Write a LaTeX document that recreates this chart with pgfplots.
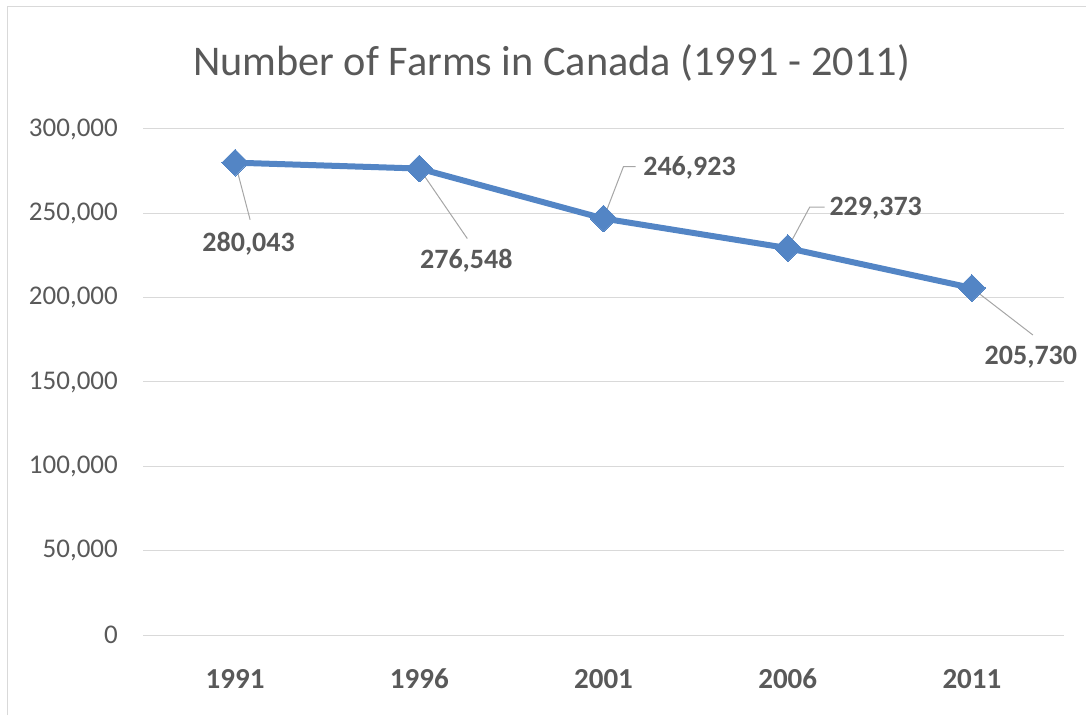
\documentclass[border=0pt]{standalone}
\usepackage{pgfplots}
\pgfplotsset{compat=1.18}
\usetikzlibrary{calc}
\usepackage{fontspec}
\setmainfont{Carlito}
\definecolor{linec}{RGB}{83,133,197}
\definecolor{txt}{RGB}{89,89,89}
\definecolor{gridc}{RGB}{217,217,217}
\definecolor{leader}{RGB}{166,166,166}
\begin{document}
\begin{tikzpicture}[x=1pt,y=1pt]
\useasboundingbox (0,0) rectangle (1086,715);
\draw[gridc,line width=1pt] (7,0) -- (7,708) -- (1086,708);
\node[text=txt,font=\fontsize{42.3}{50}\selectfont,anchor=center] at (551.5,652) {Number of Farms in Canada (1991 - 2011)};
\begin{axis}[
  at={(143pt,80pt)}, anchor=south west,
  scale only axis, width=921pt, height=506pt,
  xmin=-0.5, xmax=4.5, ymin=0, ymax=300000,
  axis line style={draw=none},
  major tick length=0pt,
  xtick={0,1,2,3,4},
  xticklabels={1991,1996,2001,2006,2011},
  ytick={0,50000,100000,150000,200000,250000,300000},
  ymajorgrids, grid style={gridc,line width=1pt},
  scaled y ticks=false,
  /pgf/number format/assume math mode=true,
  yticklabel style={/pgf/number format/.cd,fixed,1000 sep={,},/tikz/.cd,
     font=\fontsize{27}{32}\selectfont, text=txt, inner sep=0pt, xshift=-25pt},
  xticklabel style={font=\bfseries\fontsize{29}{34}\selectfont, text=txt, inner sep=0pt, anchor=north, yshift=-34pt},
  clip=false,
]
\addplot[linec, line width=6pt, mark=square*, mark size=9.5pt, mark options={rotate=45, fill=linec, draw=linec, line width=0pt}]
  coordinates {(0,280043) (1,276548) (2,246923) (3,229373) (4,205730)};
\tikzset{lab/.style={text=txt,font=\bfseries\fontsize{28}{33}\selectfont,inner sep=0pt,anchor=center}}
\draw[leader,line width=1pt] (axis cs:0,280043) -- ++(15pt,-57pt);
\node[lab] at ($(axis cs:0,280043)+(13.5pt,-81pt)$) {280,043};
\draw[leader,line width=1pt] (axis cs:1,276548) -- ++(48pt,-70pt);
\node[lab] at ($(axis cs:1,276548)+(47pt,-92pt)$) {276,548};
\draw[leader,line width=1pt] (axis cs:2,246923) -- ++(20pt,52pt) -- ++(12pt,0pt);
\node[lab] at ($(axis cs:2,246923)+(86pt,51pt)$) {246,923};
\draw[leader,line width=1pt] (axis cs:3,229373) -- ++(22pt,41pt) -- ++(15pt,0pt);
\node[lab] at ($(axis cs:3,229373)+(88pt,40pt)$) {229,373};
\draw[leader,line width=1pt] (axis cs:4,205730) -- ++(61pt,-47pt);
\node[lab] at ($(axis cs:4,205730)+(59pt,-69pt)$) {205,730};
\end{axis}
\end{tikzpicture}
\end{document}
